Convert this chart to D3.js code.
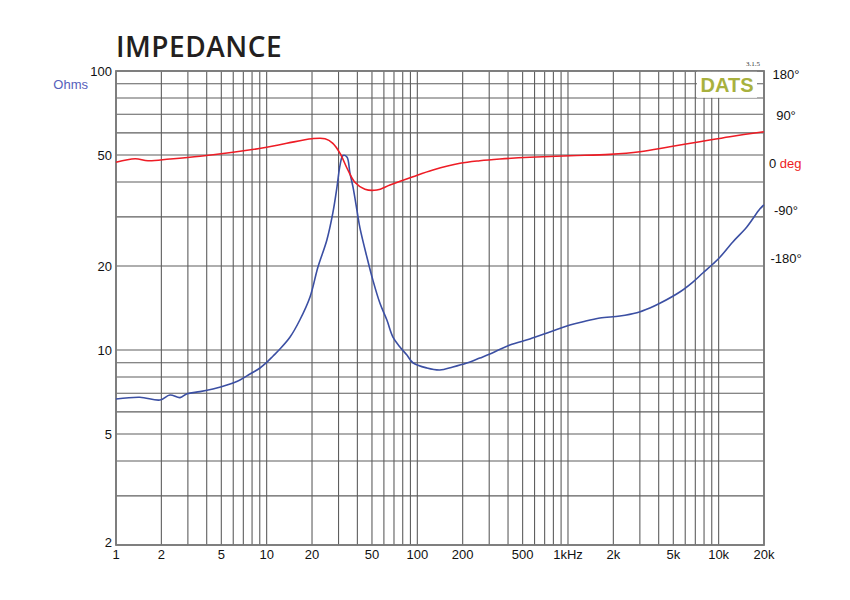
<!DOCTYPE html>
<html>
<head>
<meta charset="utf-8">
<script src="https://cdn.jsdelivr.net/npm/d3@7"></script>
<style>
  html, body { margin: 0; padding: 0; background: #fff; }
  svg { display: block; }
</style>
</head>
<body>
<svg id="chart" width="850" height="600"></svg>
<script>
// ---- data ----
const impFreq = [1, 1.44, 1.96, 2.28, 2.66, 2.96, 3.61, 4.40, 5.45, 6.65, 7.75, 9.03, 10.05, 11.0, 12.25, 14.3, 16.6, 19.4, 21.9, 25.1, 27.5, 29.3, 30.7, 32.1, 34.1, 35.7, 37.4, 39.7, 41.6, 46.3, 50.7, 56.5, 62.8, 68.9, 76.7, 85.3, 93.5, 115.8, 141, 172, 213, 260, 303, 411, 558, 758, 1030, 1256, 1629, 2210, 2864, 3494, 4071, 5522, 6745, 7855, 9157, 10190, 12420, 15380, 18750, 19950];
const impOhms = [6.67, 6.77, 6.62, 6.90, 6.75, 6.97, 7.09, 7.25, 7.49, 7.81, 8.20, 8.62, 9.05, 9.50, 10.08, 11.13, 12.81, 15.49, 19.84, 24.8, 31.0, 38.4, 46.0, 49.8, 49.2, 43.1, 38.4, 31.8, 27.4, 21.5, 17.8, 14.7, 12.8, 11.13, 10.25, 9.59, 9.00, 8.62, 8.48, 8.69, 8.98, 9.36, 9.67, 10.42, 10.95, 11.6, 12.29, 12.63, 13.02, 13.24, 13.6, 14.14, 14.7, 16.14, 17.52, 18.88, 20.33, 21.5, 24.4, 27.6, 32.0, 33.1];

const phaseFreq = [1, 1.34, 1.63, 2.28, 3.61, 5.98, 10.0, 13.6, 20.0, 24.4, 27.5, 30.7, 34.6, 38.5, 44.9, 53.9, 65.8, 93.5, 127, 192, 260, 353, 558, 1030, 1897, 3000, 4745, 7500, 11860, 19950];
const phaseDeg = [1.9, 8.7, 4.9, 8.1, 13.3, 20.8, 30.3, 37.9, 46.6, 46.6, 37.9, 18.9, -12.7, -36.0, -49.2, -50.6, -41.1, -25.4, -12.7, 0, 4.9, 8.1, 11.4, 14.4, 17.0, 22.0, 31.4, 40.9, 50.4, 59.8];

const xTickValues = [1, 2, 5, 10, 20, 50, 100, 200, 500, 1000, 2000, 5000, 10000, 20000];
const xTickLabels = ["1", "2", "5", "10", "20", "50", "100", "200", "500", "1kHz", "2k", "5k", "10k", "20k"];
const yTickValues = [2, 5, 10, 20, 50, 100];
const yTickLabels = ["2", "5", "10", "20", "50", "100"];
const phaseTickValues = [180, 90, -90, -180];
const phaseTickLabels = ["180°", "90°", "-90°", "-180°"];

// ---- layout ----
const L = 116, R = 764, T = 71, B = 545;
const svg = d3.select("#chart");

const x = d3.scaleLog().domain([1, 20000]).range([L, R]);
const y = d3.scaleLog().domain([2, 100]).range([B, T]);
const yp = d3.scaleLinear().domain([-180, 180]).range([258.3, 68.3]);

// grid values
const vGrid = [];
for (let e = 0; e <= 4; e++) for (let k = 1; k <= 9; k++) { const v = k * Math.pow(10, e); if (v <= 20000) vGrid.push(v); }
const hGrid = [];
for (let e = 0; e <= 2; e++) for (let k = 1; k <= 9; k++) { const v = k * Math.pow(10, e); if (v >= 2 && v <= 100) hGrid.push(v); }

const grid = svg.append("g");
grid.selectAll("line.v").data(vGrid).enter().append("line")
  .attr("x1", d => x(d)).attr("x2", d => x(d)).attr("y1", T).attr("y2", B)
  .attr("stroke", "#5e5e5e").attr("stroke-width", 1.1);
grid.selectAll("line.h").data(hGrid).enter().append("line")
  .attr("x1", L).attr("x2", R).attr("y1", d => y(d)).attr("y2", d => y(d))
  .attr("stroke", "#5e5e5e").attr("stroke-width", 1.1);

svg.append("rect").attr("x", L).attr("y", T).attr("width", R - L).attr("height", B - T)
  .attr("fill", "none").attr("stroke", "#7a7a7a").attr("stroke-width", 1.8);

// DATS logo box
svg.append("rect").attr("x", 697).attr("y", 71.8).attr("width", 60).attr("height", 26).attr("fill", "#fff");
svg.append("text").attr("x", 727).attr("y", 92).attr("text-anchor", "middle")
  .attr("font-family", "Liberation Sans, Arial, sans-serif").attr("font-weight", "bold")
  .attr("font-size", 20).attr("fill", "#a8b13e").text("DATS");
svg.append("text").attr("x", 753).attr("y", 66).attr("text-anchor", "middle")
  .attr("font-family", "Liberation Serif, serif").attr("font-size", 7).attr("fill", "#333").text("3.1.5");

// curves
const curve = d3.curveCatmullRom.alpha(0.5);
const lineZ = d3.line().x((d, i) => x(impFreq[i])).y(d => y(d)).curve(curve);
const lineP = d3.line().x((d, i) => x(phaseFreq[i])).y(d => yp(d)).curve(curve);

svg.append("path").attr("d", lineZ(impOhms)).attr("fill", "none")
  .attr("stroke", "#3b4fa3").attr("stroke-width", 1.6).attr("stroke-linejoin", "round");
svg.append("path").attr("d", lineP(phaseDeg)).attr("fill", "none")
  .attr("stroke", "#ee1c25").attr("stroke-width", 1.6).attr("stroke-linejoin", "round");

// axes labels
const font = "Liberation Sans, Arial, sans-serif";
svg.append("g").selectAll("text").data(xTickValues).enter().append("text")
  .attr("x", d => x(d)).attr("y", 559).attr("text-anchor", "middle")
  .attr("font-family", font).attr("font-size", 13).attr("fill", "#111")
  .text((d, i) => xTickLabels[i]);

svg.append("g").selectAll("text").data(yTickValues).enter().append("text")
  .attr("x", 112).attr("y", d => Math.min(y(d), 542)).attr("dy", "0.36em").attr("text-anchor", "end")
  .attr("font-family", font).attr("font-size", 13).attr("fill", "#111")
  .text((d, i) => yTickLabels[i]);

svg.append("g").selectAll("text").data(phaseTickValues).enter().append("text")
  .attr("x", 786).attr("y", d => Math.max(yp(d), 74)).attr("dy", "0.36em").attr("text-anchor", "middle")
  .attr("font-family", font).attr("font-size", 13).attr("fill", "#111")
  .text((d, i) => phaseTickLabels[i]);

const zeroLbl = svg.append("text").attr("x", 769).attr("y", yp(0)).attr("dy", "0.36em")
  .attr("font-family", font).attr("font-size", 13).attr("fill", "#111");
zeroLbl.append("tspan").text("0 ");
zeroLbl.append("tspan").attr("fill", "#ee1c25").text("deg");

svg.append("text").attr("x", 88).attr("y", 84).attr("dy", "0.36em").attr("text-anchor", "end")
  .attr("font-family", font).attr("font-size", 13).attr("fill", "#5560bb").text("Ohms");

// title
svg.append("text").attr("x", 116).attr("y", 57)
  .attr("font-family", "Open Sans, sans-serif").attr("font-weight", 600)
  .attr("font-size", 28).attr("fill", "#231f20").attr("letter-spacing", 0.5).text("IMPEDANCE");
</script>
</body>
</html>
